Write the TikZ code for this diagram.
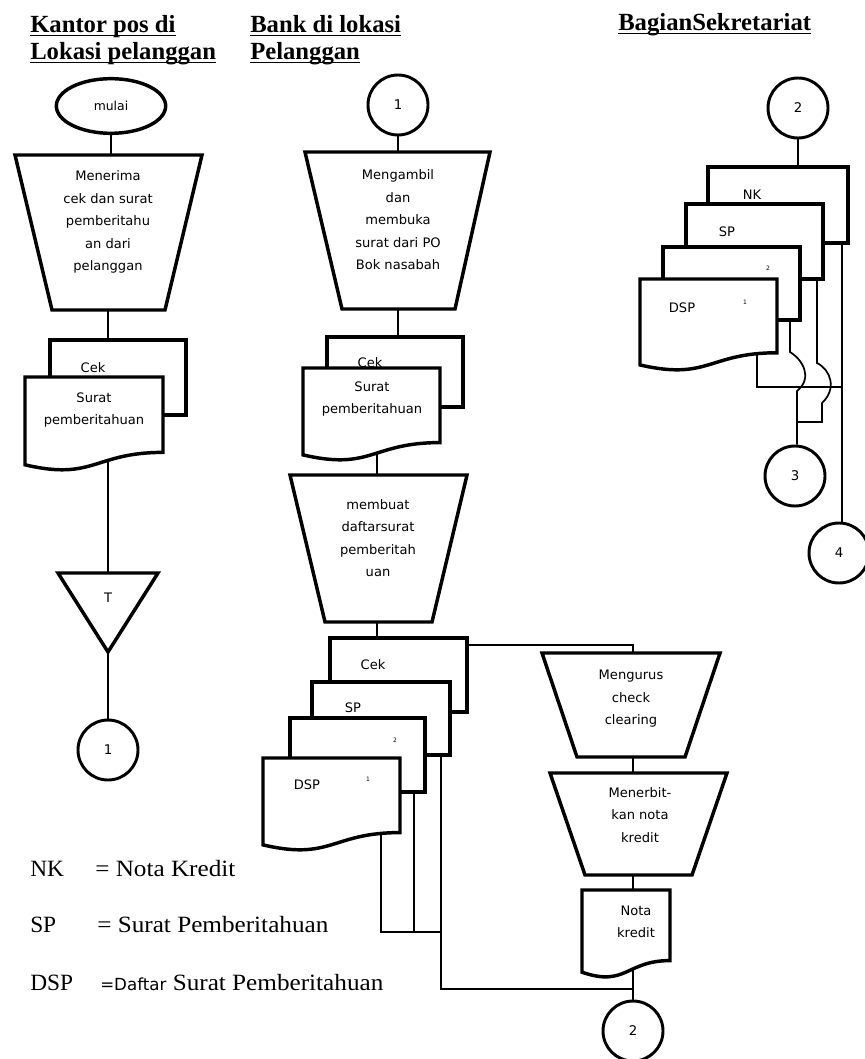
\documentclass[tikz,border=0pt]{standalone}
\usepackage{fontspec}
\setmainfont{Liberation Serif}
\newfontfamily\boxfont{DejaVu Sans}
\newfontfamily\legfont{Liberation Serif}[FakeStretch=1.08]
\usetikzlibrary{shapes.geometric,backgrounds}

% underline that sits just under the baseline
\newcommand\hdul[1]{\setbox0\hbox{#1}\rlap{\rule[-2.4pt]{\wd0}{1.1pt}}\box0}

% trapezoid: top-left x, top-right x, top y, bottom-left x, bottom-right x, bottom y
\newcommand\trapz[6]{\draw[shp] (#1,#3) -- (#2,#3) -- (#5,#6) -- (#4,#6) -- cycle;}
% document sheet with a wavy lower edge: left x, right x, top y, height
\newcommand\docsheet[4]{\draw[shp] (#1,#3) -- (#2,#3) -- (#2,{#3+0.802*#4})
  .. controls ({(#1+#2)/2},{#3+0.802*#4}) and ({(#1+#2)/2},{#3+1.107*#4}) .. (#1,{#3+0.934*#4}) -- cycle;}
% plain sheet (partly hidden behind the next one)
\newcommand\sheet[4]{\draw[shp] (#1,#3) rectangle (#2,#4);}

\tikzset{
  shp/.style={line width=2.6pt, fill=white, line join=miter},
  link/.style={line width=1.3pt},
  conn/.style={circle, draw, line width=2.2pt, minimum size=45pt, inner sep=0pt, fill=white,
    font=\boxfont\fontsize{10}{12}\selectfont},
  btxt/.style={align=center, inner sep=0pt, font=\boxfont\fontsize{9.8}{16.9}\selectfont},
  tinytxt/.style={inner sep=0pt, font=\boxfont\fontsize{4.5}{5}\selectfont},
  head/.style={anchor=base west, inner sep=0pt, font=\bfseries\fontsize{18.5}{20}\selectfont},
  leg/.style={anchor=base west, inner sep=0pt, font=\fontsize{17.5}{19}\selectfont},
  legt/.style={anchor=base west, inner sep=0pt, font=\legfont\fontsize{17.5}{19}\selectfont},
}

\begin{document}
\begin{tikzpicture}[x=0.75pt,y=-0.75pt]
\useasboundingbox (0,0) rectangle (864,1059);

% ---------- column headings ----------
\node[head] (h1a) at (30,33) {\hdul{Kantor pos di}};
\node[head] (h1b) at (30,60) {\hdul{Lokasi pelanggan}};
\node[head] (h2a) at (250,33) {\hdul{Bank di lokasi}};
\node[head] (h2b) at (250,60) {\hdul{Pelanggan}};
\node[head] (h3a) at (618,31) {\hdul{BagianSekretariat}};

% ---------- Kantor pos ----------
\node[ellipse, draw, shp, minimum width=82pt, minimum height=41pt, inner sep=0pt,
  font=\boxfont\fontsize{9.3}{11}\selectfont] (mulai) at (111,106) {mulai};
\trapz{15}{202}{155}{52}{165}{310}
\node[btxt] (terima) at (108,222) {Menerima\\cek dan surat\\pemberitahu\\an dari\\pelanggan};
\sheet{50}{186}{340}{415}
\node[btxt] (cekA) at (93,368) {Cek};
\docsheet{25}{163}{377}{94}
\node[btxt] (spA) at (94,410) {Surat\\pemberitahuan};
\draw[shp] (58,573) -- (158,573) -- (108,652) -- cycle;
\node[btxt] (arsip) at (108,598) {T};
\node[conn] (offA) at (108,750) {1};

\coordinate (terimaTop) at (111,155);
\coordinate (terimaBot) at (108,310);
\coordinate (stackAtop) at (108,340);
\coordinate (stackAbot) at (108,440);
\coordinate (arsipTop) at (108,573);
\coordinate (arsipTip) at (108,652);

% ---------- Bank ----------
\node[conn] (onB) at (398,105) {1};
\trapz{305}{490}{152}{342}{455}{309}
\node[btxt] (ambil) at (398,220) {Mengambil\\dan\\membuka\\surat dari PO\\Bok nasabah};
\sheet{327}{463}{337}{407}
\node[btxt] (cekB) at (370,363) {Cek};
\docsheet{303}{440}{368}{93}
\node[btxt] (spB) at (372,399) {Surat\\pemberitahuan};
\trapz{290}{467}{475}{325}{432}{622}
\node[btxt] (buat) at (378,538) {membuat\\daftarsurat\\pemberitah\\uan};

\sheet{330}{467}{638}{712}
\node[btxt] (cekC) at (373,665) {Cek};
\sheet{312}{450}{682}{755}
\node[btxt] (spC) at (353,708) {SP};
\sheet{290}{425}{718}{792}
\node[tinytxt] (dspC2) at (395,740) {2};
\docsheet{263}{400}{758}{93}
\node[btxt] (dspC) at (307,785) {DSP};
\node[tinytxt] (dspC1) at (368,779) {1};

\trapz{542}{720}{653}{577}{685}{757}
\node[btxt] (urus) at (631,699) {Mengurus\\check\\clearing};
\trapz{550}{727}{773}{585}{692}{875}
\node[btxt] (terbit) at (640,815) {Menerbit-\\kan nota\\kredit};
\docsheet{582}{670}{890}{88}
\node[btxt] (nota) at (636,922) {Nota\\kredit};
\node[conn] (offB) at (633,1031) {2};

\coordinate (ambilTop) at (398,152);
\coordinate (ambilBot) at (398,309);
\coordinate (stackBtop) at (398,337);
\coordinate (stackBbot) at (377,440);
\coordinate (buatTop) at (377,475);
\coordinate (buatBot) at (377,622);
\coordinate (stackCtop) at (377,638);
\coordinate (cekCout) at (467,645);
\coordinate (urusTop) at (633,653);
\coordinate (urusBot) at (633,757);
\coordinate (terbitTop) at (633,773);
\coordinate (terbitBot) at (633,875);
\coordinate (notaTop) at (633,890);
\coordinate (notaBot) at (633,955);
\coordinate (dspCout) at (381,825);
\coordinate (c2out) at (414,792);
\coordinate (spCout) at (441,755);
\coordinate (joinC) at (441,932);
\coordinate (joinD) at (441,989);
\coordinate (joinE) at (633,989);

% ---------- Sekretariat ----------
\node[conn] (onS) at (798,108) {2};
\sheet{708}{848}{167}{243}
\node[btxt] (nkS) at (752,195) {NK};
\sheet{686}{823}{204}{279}
\node[btxt] (spS) at (727,232) {SP};
\sheet{663}{800}{247}{320}
\node[tinytxt] (dspS2) at (768,268) {2};
\docsheet{640}{777}{279}{92}
\node[btxt] (dspS) at (682,308) {DSP};
\node[tinytxt] (dspS1) at (745,302) {1};
\node[conn] (offS3) at (795,476) {3};
\node[conn] (offS4) at (839,553) {4};

\coordinate (stackStop) at (798,167);
\coordinate (nkSout) at (842,243);
\coordinate (spSout) at (817,279);
\coordinate (s2out) at (790,320);
\coordinate (dspSout) at (757,345);
\coordinate (joinS) at (842,387);
\coordinate (hopA1) at (790,352);
\coordinate (hopA2) at (797,391);
\coordinate (hopB1) at (817,363);
\coordinate (hopB2) at (822,403);
\coordinate (joinT) at (822,422);
\coordinate (joinU) at (797,422);

% ---------- connectors (behind the symbols) ----------
\begin{pgfonlayer}{background}
\draw[link] (mulai.south) -- (terimaTop);
\draw[link] (terimaBot) -- (stackAtop);
\draw[link] (stackAbot) -- (arsipTop);
\draw[link] (arsipTip) -- (offA.north);

\draw[link] (onB.south) -- (ambilTop);
\draw[link] (ambilBot) -- (stackBtop);
\draw[link] (stackBbot) -- (buatTop);
\draw[link] (buatBot) -- (stackCtop);
\draw[link] (cekCout) -| (urusTop);
\draw[link] (urusBot) -- (terbitTop);
\draw[link] (terbitBot) -- (notaTop);
\draw[link] (notaBot) -- (offB.north);
\draw[link] (dspCout) |- (joinC);
\draw[link] (c2out) -- (c2out |- joinC);
\draw[link] (spCout) -- (joinD) -- (joinE);

\draw[link] (onS.south) -- (stackStop);
\draw[link] (nkSout) -- (nkSout |- offS4.north);
\draw[link] (dspSout) |- (joinS);
\draw[link] (s2out) -- (hopA1) .. controls (803,360) and (813,378) .. (hopA2) -- (offS3.north -| hopA2);
\draw[link] (spSout) -- (hopB1) .. controls (831,370) and (837,389) .. (hopB2) -- (joinT) -- (joinU);
\end{pgfonlayer}

% ---------- legend ----------
\node[leg] (lgNK) at (30,876) {NK};
\node[legt] (lgNKt) at (95,876) {= Nota Kredit};
\node[leg] (lgSP) at (30,932) {SP};
\node[legt] (lgSPt) at (97,932) {= Surat Pemberitahuan};
\node[leg] (lgDSP) at (30,990) {DSP};
\node[legt] (lgDSPt) at (100,990) {{\boxfont\fontsize{12.5}{13}\selectfont =Daftar} Surat Pemberitahuan};
\end{tikzpicture}
\end{document}
